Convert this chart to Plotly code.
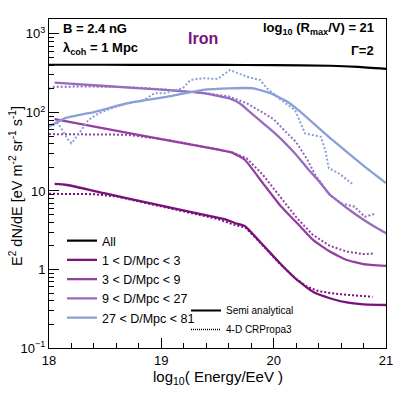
import plotly.graph_objects as go

# ── data ──────────────────────────────────────────────────────────────────────
all_x = [18.0, 18.5, 19.0, 19.5, 20.0, 20.5, 20.75, 21.0]
all_y = [405, 405, 404, 403, 400, 393, 380, 358]

d1_x = [18.05, 18.15, 18.5, 19.0, 19.5, 19.57, 19.66, 19.745, 19.905, 20.056, 20.208, 20.35, 20.5, 20.65, 20.8, 21.0]
d1_y = [12.3, 12.0, 9.3, 6.5, 4.56, 4.35, 3.88, 3.55, 2.05, 1.20, 0.735, 0.52, 0.43, 0.38, 0.36, 0.353]
d1_dot_x = [18.0, 18.2, 18.4, 18.6, 19.0, 19.5, 19.65, 19.75, 19.9, 20.05, 20.2, 20.3, 20.4, 20.55, 20.7, 20.88]
d1_dot_y = [9.2, 9.2, 9.1, 8.5, 6.4, 4.4, 3.7, 3.4, 2.05, 1.2, 0.76, 0.6, 0.53, 0.49, 0.47, 0.45]

d2_x = [18.05, 18.5, 19.0, 19.12, 19.63, 19.745, 19.905, 20.056, 20.208, 20.35, 20.5, 20.65, 20.8, 21.0]
d2_y = [82, 62, 45.7, 42.5, 30.8, 24.8, 12.5, 6.6, 3.9, 2.38, 1.69, 1.32, 1.17, 1.11]
d2_dot_x = [18.0, 18.3, 18.7, 18.94, 19.12, 19.63, 19.76, 19.905, 20.056, 20.208, 20.35, 20.5, 20.65, 20.8, 20.9]
d2_dot_y = [53, 53, 52, 47, 43, 31, 26, 16, 8.5, 4.5, 2.75, 2.0, 1.69, 1.57, 1.6]

d3_x = [18.05, 18.5, 19.0, 19.37, 19.6, 19.7, 19.8, 19.9, 20.0, 20.1, 20.2, 20.3, 20.4, 20.5, 20.6, 20.7, 20.8, 20.9, 21.0]
d3_y = [240, 217, 195, 176, 152, 130, 98, 74, 56, 41, 29, 19.5, 13.5, 9, 6.9, 5.4, 4.3, 3.5, 2.9]
d3_dot_x = [18.0, 18.05, 18.3, 18.6, 18.85, 19.1, 19.37, 19.6, 19.76, 19.9, 20.0, 20.1, 20.2, 20.3, 20.37, 20.5, 20.6, 20.72, 20.81, 20.9]
d3_dot_y = [200, 212, 214, 212, 205, 192, 178, 160, 131, 100, 82, 58, 42, 25, 16, 8.8, 7.0, 6.3, 4.7, 5.1]

d4_x = [18.0, 18.14, 18.41, 18.7, 19.1, 19.37, 19.61, 19.82, 19.97, 20.12, 20.22, 20.52, 20.81, 21.0]
d4_y = [66, 84, 102, 131, 163, 194, 203, 203, 176, 138, 107, 45, 20.4, 12.6]
d4_dot_x = [18.0, 18.08, 18.17, 18.2, 18.26, 18.35, 18.44, 18.56, 18.7, 18.85, 18.94, 19.03, 19.19, 19.26, 19.37,
            19.5, 19.61, 19.76, 19.88, 19.94, 20.05, 20.19, 20.28, 20.35, 20.42, 20.46, 20.49, 20.58, 20.64, 20.7]
d4_dot_y = [66, 73, 45, 40.5, 52, 80, 97, 113, 131, 145, 176, 176, 203, 259, 273,
            267, 347, 286, 259, 203, 150, 107, 54, 52, 49, 33, 19.5, 16.8, 14.4, 12.3]

groups = [
    ("1 < D/Mpc < 3", "#78127a", d1_x, d1_y, d1_dot_x, d1_dot_y),
    ("3 < D/Mpc < 9", "#9340a2", d2_x, d2_y, d2_dot_x, d2_dot_y),
    ("9 < D/Mpc < 27", "#966cbe", d3_x, d3_y, d3_dot_x, d3_dot_y),
    ("27 < D/Mpc < 81", "#8a9fd8", d4_x, d4_y, d4_dot_x, d4_dot_y),
]

FONT = "Liberation Sans, Arial, sans-serif"
DOTS = "2px,2px"

# page body adds an 8px offset, so the plot frame (49..386, 19..348 on screen)
# is laid out relative to the figure origin at (8, 8)
OX, OY = 8, 8
PL, PR, PT, PB = 49, 386, 19, 348
W, H = 391, 380

fig = go.Figure()
fig.add_trace(go.Scatter(x=all_x, y=all_y, mode="lines", name="All",
                         line=dict(color="black", width=2.2, shape="spline", smoothing=0.5), legend="legend"))
for name, col, sx, sy, dx, dy in groups:
    fig.add_trace(go.Scatter(x=sx, y=sy, mode="lines", name=name,
                             line=dict(color=col, width=2.3, shape="spline", smoothing=0.4),
                             legend="legend"))
    fig.add_trace(go.Scatter(x=dx, y=dy, mode="lines", showlegend=False,
                             line=dict(color=col, width=2, dash=DOTS)))

# second legend: line style key
fig.add_trace(go.Scatter(x=[None], y=[None], mode="lines", name="Semi analytical",
                         line=dict(color="black", width=2), legend="legend2"))
fig.add_trace(go.Scatter(x=[None], y=[None], mode="lines", name="4-D CRPropa3",
                         line=dict(color="black", width=1.5, dash="1px,1px"), legend="legend2"))

minor_y = [m * 10 ** e for e in range(-1, 3) for m in range(2, 10)]


def px(x):
    return (x - PL) / (PR - PL)


def py(y):
    return (PB - y) / (PB - PT)


fig.update_layout(
    width=W, height=H,
    margin=dict(l=PL - OX, r=W - (PR - OX), t=PT - OY, b=H - (PB - OY)),
    plot_bgcolor="white", paper_bgcolor="white",
    font=dict(family=FONT, color="black", size=13),
    xaxis=dict(
        range=[18, 21], tickvals=[18, 19, 20, 21], ticks="inside", ticklen=10,
        tickcolor="black", showgrid=False, zeroline=False, automargin=False,
        showline=True, linecolor="black", linewidth=1, mirror=True,
        minor=dict(ticks="inside", ticklen=5, dtick=0.2, tickcolor="black", showgrid=False),
        tickfont=dict(size=13),
    ),
    yaxis=dict(
        type="log", range=[-1, 3.19],
        tickvals=[0.1, 1, 10, 100, 1000],
        ticktext=["10<sup>−1</sup>", "1", "10", "10<sup>2</sup>", "10<sup>3</sup>"],
        ticks="inside", ticklen=10, tickcolor="black", showgrid=False, zeroline=False,
        showline=True, linecolor="black", linewidth=1, mirror=True, automargin=False,
        minor=dict(ticks="inside", ticklen=5, tickvals=minor_y, tickcolor="black", showgrid=False),
        tickfont=dict(size=13),
    ),
    legend=dict(x=px(62), y=py(226), xanchor="left", yanchor="top", bgcolor="rgba(0,0,0,0)",
                font=dict(size=12.5), itemwidth=30),
    legend2=dict(x=px(186), y=py(296), xanchor="left", yanchor="top", bgcolor="rgba(0,0,0,0)",
                 font=dict(size=10), itemwidth=30),
    showlegend=True,
)

ann = [
    dict(text="<b>B = 2.4 nG</b>", x=61, y=29, xanchor="left", size=13, color="black"),
    dict(text="<b>λ<sub>coh</sub> = 1 Mpc</b>", x=61, y=49, xanchor="left", size=13, color="black"),
    dict(text="<b>Iron</b>", x=203, y=38, xanchor="center", size=16, color="#78127a"),
    dict(text="<b>log<sub>10</sub> (R<sub>max</sub>/V) = 21</b>", x=376, y=29, xanchor="right", size=13, color="black"),
    dict(text="<b>Γ=2</b>", x=376, y=50, xanchor="right", size=13, color="black"),
]
for a in ann:
    fig.add_annotation(text=a["text"], xref="paper", yref="paper",
                       x=px(a["x"]), y=py(a["y"]),
                       xanchor=a["xanchor"], yanchor="middle", showarrow=False,
                       font=dict(size=a["size"], color=a["color"], family=FONT))

# axis titles
fig.add_annotation(text="log<sub>10</sub>( Energy/EeV )", xref="paper", yref="paper",
                   x=0.5, y=py(377), xanchor="center", yanchor="middle",
                   showarrow=False, font=dict(size=15, family=FONT))
fig.add_annotation(text="E<sup>2</sup> dN/dE [eV m<sup>-2</sup> sr<sup>-1</sup> s<sup>-1</sup>]",
                   xref="paper", yref="paper", x=px(16), y=py(186),
                   xanchor="center", yanchor="middle", textangle=-90,
                   showarrow=False, font=dict(size=14.5, family=FONT))

fig.write_html("out.html")
